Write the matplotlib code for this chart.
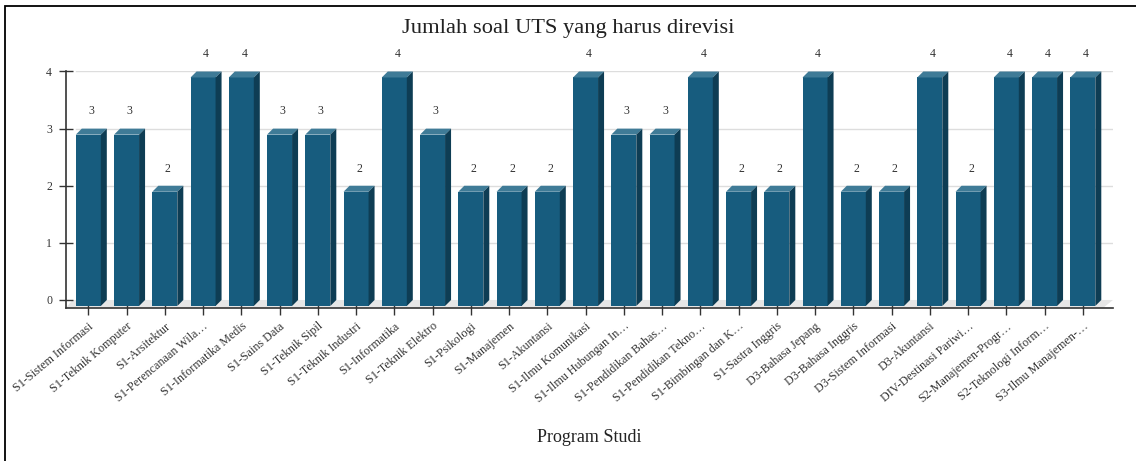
import matplotlib
matplotlib.use("Agg")
import matplotlib.pyplot as plt
from matplotlib.patches import Polygon, Rectangle

categories = [
    "S1-Sistem Informasi", "S1-Teknik Komputer", "S1-Arsitektur",
    "S1-Perencanaan Wila…", "S1-Informatika Medis", "S1-Sains Data",
    "S1-Teknik Sipil", "S1-Teknik Industri", "S1-Informatika",
    "S1-Teknik Elektro", "S1-Psikologi", "S1-Manajemen", "S1-Akuntansi",
    "S1-Ilmu Komunikasi", "S1-Ilmu Hubungan In…", "S1-Pendidikan Bahas…",
    "S1-Pendidikan Tekno…", "S1-Bimbingan dan K…", "S1-Sastra Inggris",
    "D3-Bahasa Jepang", "D3-Bahasa Inggris", "D3-Sistem Informasi",
    "D3-Akuntansi", "DIV-Destinasi Pariwi…", "S2-Manajemen-Progr…",
    "S2-Teknologi Inform…", "S3-Ilmu Manajemen-…",
]
values = [3, 3, 2, 4, 4, 3, 3, 2, 4, 3, 2, 2, 2, 4, 3, 3, 4, 2, 2, 4, 2, 2, 4, 2, 4, 4, 4]
yticks = [0, 1, 2, 3, 4]

title = "Jumlah soal UTS yang harus direvisi"
xlabel = "Program Studi"

FRONT = "#175c7e"
TOP = "#3f7b97"
SIDE = "#0e3d54"
SERIF = ["Liberation Serif", "DejaVu Serif"]

W, H = 1136, 461
fig = plt.figure(figsize=(W / 100, H / 100), dpi=100)
fig.patch.set_facecolor("white")

# figure border (left and top visible)
fig.add_artist(Rectangle((5 / W, -0.05), 1.2, (H - 6) / H + 0.05,
                         transform=fig.transFigure, fill=False,
                         edgecolor="black", linewidth=1.3))

ax_left, ax_right = 66, 1113
ax_top, ax_bot = 71.5, 307.7
ax = fig.add_axes([ax_left / W, (H - ax_bot) / H,
                   (ax_right - ax_left) / W, (ax_bot - ax_top) / H])

n = len(categories)
xs = list(range(n))
xmin, xmax = -0.583, 26.79
ymin, ymax = -0.135, 4.0
ax.set_xlim(xmin, xmax)
ax.set_ylim(ymin, ymax)

bw = 0.654
dx = 0.157
dy = 0.105

# floor
ax.add_patch(Polygon([(xmin, ymin), (xmax - dx * 1.6, ymin), (xmax, 0), (xmin + dx * 1.1, 0)],
                     closed=True, facecolor="#e6e6e6", edgecolor="none", zorder=0.5))
# gridlines on back wall
for t in yticks[1:]:
    ax.plot([xmin + 0.25, xmax], [t, t], color="#dddddd", lw=1.0, zorder=0.6)

# bars: front faces via bar, top and side faces as polygons
ax.bar(xs, values, width=bw, bottom=-dy, color=FRONT, zorder=2)
for x, v in zip(xs, values):
    l, r = x - bw / 2, x + bw / 2
    ax.add_patch(Polygon([(l, v - dy), (r, v - dy), (r + dx, v), (l + dx, v)],
                         closed=True, facecolor=TOP, edgecolor="none", zorder=2))
    ax.add_patch(Polygon([(r, -dy), (r, v - dy), (r + dx, v), (r + dx, 0)],
                         closed=True, facecolor=SIDE, edgecolor="none", zorder=2))
    ax.text(x + dx / 2, v + 0.30, str(v), ha="center", va="center",
            fontsize=8.5, color="#333333", family=SERIF, clip_on=False)

for s in ["top", "right"]:
    ax.spines[s].set_visible(False)
for s in ["left", "bottom"]:
    ax.spines[s].set_color("#333333")
    ax.spines[s].set_linewidth(1.2)
ax.patch.set_alpha(0)

ax.set_yticks(yticks)
ax.set_yticklabels([str(t) for t in yticks], family=SERIF, fontsize=8.5, color="#333333")
ax.tick_params(axis="y", direction="inout", length=10, width=1.0, color="#333333", pad=5)
ax.set_xticks(xs)
ax.set_xticklabels(categories, rotation=40, ha="right", rotation_mode="anchor",
                   family=SERIF, fontsize=8.7, color="#333333")
ax.tick_params(axis="x", direction="inout", length=10, width=1.0, color="#333333", pad=4)

fig.text(568 / W, 1 - 28 / H, title, ha="center", va="center",
         fontsize=16.2, family=SERIF, color="#222222")
fig.text(589 / W, 1 - 437 / H, xlabel, ha="center", va="center",
         fontsize=13, family=SERIF, color="#222222")

fig.savefig("out.png", dpi=100)
